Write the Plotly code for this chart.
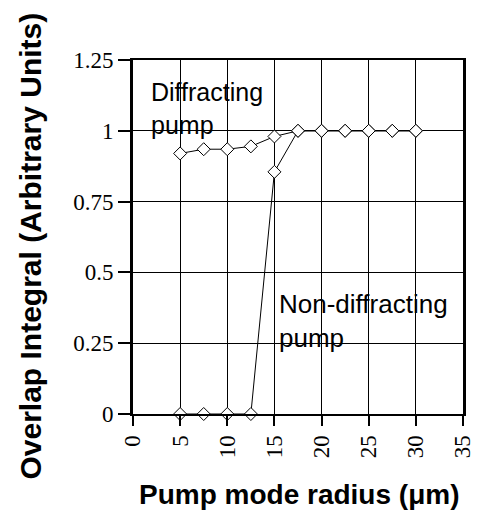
import plotly.graph_objects as go

# Pump mode radius (µm) sampled for both pump types
radius = [5, 7.5, 10, 12.5, 15, 17.5, 20, 22.5, 25, 27.5, 30]

# Overlap integral for the diffracting pump
overlap_diffracting = [0.92, 0.935, 0.935, 0.945, 0.98, 1.0, 1.0, 1.0, 1.0, 1.0, 1.0]

# Overlap integral for the non-diffracting pump
overlap_nondiffracting = [0.0, 0.0, 0.0, 0.0, 0.855, 1.0, 1.0, 1.0, 1.0, 1.0, 1.0]

x_ticks = [0, 5, 10, 15, 20, 25, 30, 35]
y_ticks = [0, 0.25, 0.5, 0.75, 1, 1.25]
y_tick_text = ["0", "0.25", "0.5", "0.75", "1", "1.25"]

marker_style = dict(symbol="diamond", size=10, color="white",
                    line=dict(color="black", width=1))
line_style = dict(color="black", width=1)

fig = go.Figure()
fig.add_trace(go.Scatter(x=radius, y=overlap_nondiffracting, mode="lines+markers",
                         line=line_style, marker=marker_style,
                         name="Non-diffracting pump", cliponaxis=False))
fig.add_trace(go.Scatter(x=radius, y=overlap_diffracting, mode="lines+markers",
                         line=line_style, marker=marker_style,
                         name="Diffracting pump", cliponaxis=False))

serif = "Liberation Serif, Times New Roman, serif"
sans = "Liberation Sans, Arial, Helvetica, sans-serif"

fig.update_xaxes(range=[0, 35], tickvals=x_ticks, ticktext=[str(v) for v in x_ticks],
                 tickangle=-90, tickfont=dict(family=serif, size=23, color="black"),
                 ticks="outside", ticklen=10, tickwidth=2, tickcolor="black",
                 showline=True, linecolor="black", linewidth=2, mirror=True,
                 showgrid=True, gridcolor="black", gridwidth=1,
                 zeroline=False, fixedrange=True)
fig.update_yaxes(range=[0, 1.25], tickvals=y_ticks, ticktext=y_tick_text,
                 tickfont=dict(family=serif, size=23, color="black"),
                 ticks="outside", ticklen=12, tickwidth=2, tickcolor="black",
                 showline=True, linecolor="black", linewidth=3, mirror=True,
                 showgrid=True, gridcolor="black", gridwidth=1,
                 zeroline=False, fixedrange=True)

annotations = [
    dict(x=1.7, y=1.195, xref="x", yref="y", text="Diffracting<br>pump",
         showarrow=False, xanchor="left", yanchor="top", align="left",
         font=dict(family=sans, size=25, color="black")),
    dict(x=15.3, y=0.45, xref="x", yref="y", text="Non-diffracting<br>pump",
         showarrow=False, xanchor="left", yanchor="top", align="left",
         font=dict(family=sans, size=26, color="black")),
    dict(x=-0.31, y=0.475, xref="paper", yref="paper",
         text="<b>Overlap Integral (Arbitrary Units)</b>", textangle=-90,
         showarrow=False, xanchor="center", yanchor="middle",
         font=dict(family=sans, size=30, color="black")),
    dict(x=0.506, y=-0.226, xref="paper", yref="paper",
         text="<b>Pump mode radius (μm)</b>",
         showarrow=False, xanchor="center", yanchor="middle",
         font=dict(family=sans, size=28, color="black")),
]

fig.update_layout(width=485, height=514, margin=dict(l=133, r=10, t=60, b=100),
                  paper_bgcolor="white", plot_bgcolor="white",
                  showlegend=False, annotations=annotations)

fig.write_html("out.html")
